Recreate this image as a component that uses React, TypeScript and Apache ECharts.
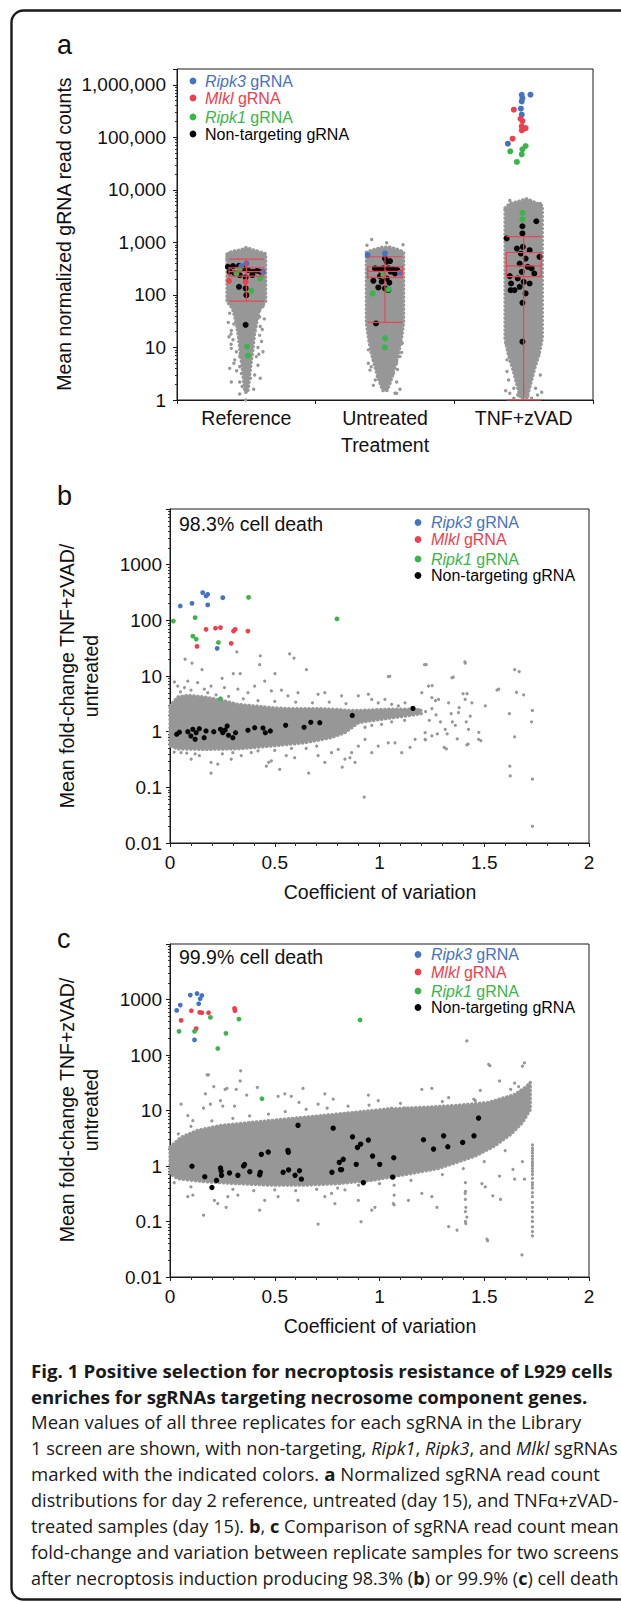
import React, { useEffect, useRef } from 'react';
import * as echarts from 'echarts';

const W = 621;
const H = 1602;
const GRAY = '#979797';
const BLUE = '#4472c4';
const RED = '#ee3f4b';
const GREEN = '#3ab54a';
const BLACK = '#050505';
const BOXRED = '#e94453';
const INK = '#111111';
const SANS = "'Liberation Sans', Arial, Helvetica, sans-serif";
const CAP_FONT = "'Open Sans', 'Noto Sans', sans-serif";

// ---------------- Panel a : read counts (category offset, value) ----------------
const categoriesA = ['Reference', 'Untreated', 'TNF+zVAD'];
const centersA = [0.5, 1.5, 2.5];

// dense gray cloud outlines per column [offset, count]
const cloudRef = [[-0.14, 600], [-0.1, 680], [-0.04, 720], [0, 800], [0.05, 720], [0.1, 660], [0.14, 600], [0.14, 75], [0.1, 55], [0.08, 35], [0.06, 18], [0.045, 8], [0.03, 4], [0.02, 2.2], [0.01, 1.4], [-0.01, 1.4], [-0.02, 2.2], [-0.03, 4], [-0.045, 8], [-0.06, 18], [-0.08, 35], [-0.1, 55], [-0.14, 75]];
const cloudUnt = [[-0.135, 650], [-0.09, 720], [-0.03, 800], [0.03, 820], [0.09, 740], [0.135, 660], [0.135, 30], [0.12, 15], [0.1, 8], [0.07, 4], [0.04, 2.2], [0.015, 1.5], [-0.015, 1.5], [-0.04, 2.2], [-0.07, 4], [-0.1, 8], [-0.12, 15], [-0.135, 30]];
const cloudTnf = [[-0.135, 4500], [-0.1, 5500], [-0.04, 6000], [0.02, 6800], [0.08, 5800], [0.135, 5000], [0.135, 15], [0.11, 7], [0.08, 4], [0.05, 2], [0.025, 1.1], [-0.025, 1.1], [-0.05, 2], [-0.08, 4], [-0.11, 7], [-0.135, 15]];

const aRefGray = [[-0.125, 617], [0.133, 617], [-0.14, 495], [-0.048, 60], [0.048, 52], [0.096, 52], [-0.072, 41], [0.072, 33], [-0.108, 21], [-0.048, 19], [0.06, 21], [0.096, 17], [-0.125, 16], [-0.096, 14], [0.048, 15], [0.084, 10], [0.12, 8.3], [-0.108, 9.6], [-0.072, 8.3], [0.072, 6.7], [-0.048, 6.7], [-0.084, 5.8], [-0.12, 4.0], [0.084, 4.6], [0.024, 5.4], [-0.048, 4.3], [-0.108, 2.2], [-0.048, 2.2], [-0.036, 3.2], [0.024, 3.7], [0.053, 1.6], [-0.048, 1.3], [-0.005, 1.0], [-0.096, 80], [0.108, 80], [0.096, 38], [-0.024, 31], [0.024, 11], [-0.024, 8.9], [0, 6.2], [0.12, 60], [-0.12, 45], [0.1, 25], [-0.09, 28], [0.11, 13], [-0.11, 11.5], [0.09, 7.4], [-0.09, 5], [0.06, 3], [-0.07, 3.6], [0.1, 2.6], [-0.03, 1.8], [0.03, 2.6], [-0.13, 30], [0.13, 35], [-0.11, 18], [0.115, 22]];
const aUntGray = [[-0.096, 1140], [0.012, 984], [-0.084, 5.8], [-0.12, 5.0], [0.084, 5.0], [0.108, 6.7], [-0.108, 3.7], [-0.055, 2.8], [0.06, 3.2], [0.084, 2.2], [-0.084, 1.9], [0.072, 1.34], [0.108, 1.6], [0.084, 1.34], [-0.012, 1.7], [0, 1.9], [-0.12, 9], [0.125, 12], [0.12, 8], [-0.1, 4.3], [0.09, 3.8], [-0.07, 2.4], [0.13, 900], [-0.13, 880]];
const aTnfGray = [[-0.109, 2.4], [-0.071, 1.67], [0.043, 2.07], [0.086, 1.67], [-0.1, 1.34], [0.1, 1.25], [-0.043, 1.25], [0.029, 1.16], [-0.071, 1.08], [0.057, 1.08], [0.109, 7.7], [-0.12, 5.8], [-0.1, 8.9], [0.077, 5.0], [-0.071, 4.3], [0.057, 3.2], [-0.129, 12], [0.114, 16], [0.12, 5500], [-0.1, 6300], [-0.13, 1.5], [0.13, 1.4], [-0.12, 3.5], [0.12, 3]];

const aRefBlack = [[-0.133, 344], [-0.096, 354], [-0.053, 359], [-0.024, 320], [0.012, 297], [0.048, 276], [0.077, 289], [0.101, 276], [-0.12, 276], [-0.084, 257], [-0.048, 239], [-0.005, 216], [0.043, 239], [-0.053, 143], [-0.005, 133], [0, 99], [-0.005, 27]];
const aRefRed = [[-0.125, 186], [-0.005, 178]];
const aRefBlue = [[-0.036, 354], [0, 398], [0.12, 276]];
const aRefGreen = [[-0.072, 257], [-0.048, 306], [0.101, 206], [0.036, 120], [0.005, 10.4], [0.012, 7]];

const aUntBlack = [[-0.084, 186], [-0.024, 179], [0.012, 206], [0.031, 171], [-0.048, 139], [0, 133], [0.024, 124], [-0.065, 28.7], [-0.072, 320], [-0.041, 306], [-0.012, 320], [0.024, 320], [0.06, 306], [0.089, 297], [0.012, 428], [0, 495], [0.036, 441], [0.072, 257], [0.041, 276], [-0.036, 228]];
const aUntBlue = [[-0.125, 573], [0, 617], [0.108, 264]];
const aUntGreen = [[-0.089, 107], [0.024, 127], [-0.012, 239], [0, 14.9], [0, 10]];

const aTnfBlue = [[-0.114, 75800], [-0.014, 647000], [-0.009, 560000], [-0.014, 483000], [0.049, 648000], [-0.02, 351000], [-0.014, 270000]];
const aTnfRed = [[-0.071, 336000], [-0.023, 226000], [-0.009, 204000], [-0.014, 162000], [0, 146000], [0.014, 150000], [-0.014, 136000], [-0.08, 94400]];
const aTnfGreen = [[-0.097, 54200], [0.014, 68400], [-0.009, 59100], [-0.014, 47500], [-0.049, 34000], [-0.009, 3640], [-0.009, 2760]];
const aTnfBlack = [[0.091, 2530], [-0.009, 2030], [-0.009, 1480], [-0.123, 1190], [-0.049, 764], [-0.006, 822], [0.043, 711], [0.114, 531], [-0.02, 614], [0.014, 493], [-0.029, 396], [0.029, 343], [-0.014, 275], [0.057, 319], [-0.1, 228], [-0.043, 206], [0, 178], [0.077, 256], [-0.091, 165], [-0.029, 143], [0.043, 165], [-0.094, 123], [-0.066, 123], [0.014, 107], [-0.009, 70.9], [-0.009, 12.9]];

// box statistics [min, Q1, median, Q3, max]
const boxRef = [76, 229, 277, 329, 480];
const boxUnt = [30, 216, 280, 344, 533];
const boxTnf = [1, 224, 358, 642, 1290];

// ---------------- Panel b : 98.3% (CV, fold change) ----------------
const bBand = [[0, 2.9], [0.037, 4.2], [0.085, 4.5], [0.164, 4.2], [0.244, 3.7], [0.324, 3.1], [0.404, 2.9], [0.484, 2.7], [0.563, 2.6], [0.643, 2.6], [0.723, 2.6], [0.803, 2.5], [0.867, 2.4], [0.95, 2.45], [1.05, 2.55], [1.15, 2.55], [1.2, 2.4], [1.2, 2.1], [1.1, 1.85], [1.0, 1.65], [0.9, 1.45], [0.835, 0.96], [0.771, 0.78], [0.643, 0.63], [0.484, 0.55], [0.324, 0.49], [0.164, 0.48], [0.037, 0.49], [0, 0.55]];
const bGray = [[0.072, 20], [0.105, 17], [0.153, 13], [0.021, 7.8], [0.085, 8.1], [0.249, 9.1], [0.319, 27], [0.428, 16], [0.431, 23], [0.571, 25], [0.592, 21], [0.651, 13], [0.501, 11], [0.452, 8.1], [0.532, 5.6], [0.302, 11], [0.335, 11],
  [0.037, 6.6], [0.069, 6.2], [0.132, 7.6], [0.164, 5.8], [0.196, 6.6], [0.26, 6.2], [0.324, 5.8], [0.372, 5.0], [0.404, 6.6], [0.484, 5.4], [0.563, 4.4], [0.611, 5.0], [0.707, 4.7], [0.739, 5.0], [0.819, 4.4],
  [0.05, 5.2], [0.1, 5.6], [0.18, 5.0], [0.22, 4.6], [0.28, 4.3], [0.35, 3.9], [0.42, 3.6], [0.5, 3.5], [0.6, 3.4], [0.68, 3.3], [0.76, 3.4], [0.84, 3.2],
  [0.899, 4.4], [0.947, 4.7], [0.963, 3.8], [0.994, 3.3], [1.026, 3.8], [1.058, 3.1], [1.09, 2.9], [1.122, 3.3], [1.154, 2.7], [1.186, 2.5], [1.202, 5.0], [1.25, 4.1], [1.282, 3.8], [1.33, 3.3], [1.377, 2.2], [1.409, 3.8], [1.441, 3.3], [1.505, 2.9], [1.561, 5.6],
  [1.042, 9.7], [1.215, 16], [1.346, 9.3], [1.409, 17], [1.234, 6.6],
  [1.22, 2.3], [1.25, 2.6], [1.27, 2.0], [0.963, 1.3], [1.01, 1.35], [1.058, 1.5], [0.931, 1.2], [1.12, 1.6],
  [0.899, 0.55], [0.963, 0.42], [0.994, 0.55], [1.042, 0.63], [1.074, 0.63], [1.106, 0.42], [1.146, 0.52], [1.17, 0.73], [1.218, 0.73], [1.25, 0.84], [1.314, 1.1], [1.362, 1.3], [1.425, 1.1], [1.473, 0.73], [1.417, 0.58], [1.309, 0.52], [1.218, 0.96], [0.931, 0.73], [0.867, 0.42],
  [0.053, 0.42], [0.101, 0.32], [0.14, 0.37], [0.196, 0.28], [0.228, 0.26], [0.196, 0.18], [0.292, 0.32], [0.34, 0.37], [0.388, 0.42], [0.46, 0.24], [0.471, 0.28], [0.484, 0.30], [0.524, 0.21], [0.555, 0.37], [0.595, 0.34], [0.662, 0.18], [0.707, 0.37], [0.739, 0.28], [0.771, 0.42], [0.822, 0.23], [0.859, 0.34], [0.883, 0.28], [0.835, 0.32], [0.803, 0.48], [0.927, 0.067],
  [0.02, 0.43], [0.08, 0.41], [0.12, 0.4], [0.25, 0.4], [0.3, 0.42], [0.42, 0.45], [0.5, 0.46], [0.58, 0.5], [0.65, 0.5], [0.7, 0.55],
  [1.62, 2.1], [1.645, 13], [1.667, 12], [1.654, 5.1], [1.688, 4.6], [1.73, 2.4], [1.726, 1.5], [1.645, 0.81], [1.622, 0.24], [1.624, 0.16], [1.73, 0.14], [1.73, 0.020], [1.569, 5.8],
  [1.408, 18], [1.352, 9.5], [1.399, 4.8], [1.418, 4.8], [1.414, 1.5], [1.433, 1.9], [1.38, 2.7], [1.342, 2.1], [1.474, 0.97], [1.484, 0.69], [1.423, 0.60], [1.371, 0.74], [1.323, 0.91], [1.319, 0.49], [1.276, 0.91], [1.219, 0.71], [1.223, 16], [1.251, 6.7], [1.267, 3.6], [1.238, 1.6], [1.291, 1.5], [1.348, 1.5], [1.049, 9.9]];
const bBlue = [[0.049, 181], [0.105, 202], [0.156, 314], [0.172, 274], [0.18, 293], [0.18, 189], [0.252, 255], [0.225, 31.4]];
const bRed = [[0.172, 69], [0.217, 72], [0.241, 74], [0.303, 64], [0.311, 69], [0.372, 64], [0.292, 38.6], [0.129, 34]];
const bGreen = [[0.016, 97], [0.12, 112], [0.375, 259], [0.797, 106], [0.109, 52], [0.125, 46], [0.231, 40], [0.241, 3.9]];
const bBlack = [[0.032, 0.9], [0.045, 0.98], [0.085, 1.0], [0.1, 0.84], [0.109, 1.1], [0.12, 0.73], [0.125, 0.96], [0.14, 1.13], [0.163, 0.78], [0.172, 1.03], [0.209, 1.0], [0.241, 1.1], [0.252, 0.96], [0.263, 1.07], [0.273, 1.26], [0.279, 0.86], [0.3, 0.78], [0.313, 0.96], [0.372, 1.06], [0.404, 1.18], [0.444, 1.16], [0.455, 0.96], [0.479, 1.03], [0.552, 1.3], [0.64, 1.2], [0.672, 1.47], [0.715, 1.45], [0.87, 1.96], [1.16, 2.62]];

// ---------------- Panel c : 99.9% (CV, fold change) ----------------
const cBand = [[0, 2.2], [0.053, 3.3], [0.132, 4.4], [0.244, 5.4], [0.404, 6.2], [0.563, 7.1], [0.723, 8.1], [0.883, 9.3], [1.042, 10.7], [1.202, 11.4], [1.362, 12.3], [1.521, 14], [1.645, 19.4], [1.701, 27], [1.72, 32], [1.72, 10.4], [1.682, 6], [1.626, 3.7], [1.55, 2.3], [1.456, 1.5], [1.282, 0.9], [1.122, 0.7], [0.963, 0.55], [0.803, 0.48], [0.643, 0.45], [0.484, 0.45], [0.324, 0.48], [0.164, 0.52], [0.037, 0.59], [0, 0.73]];
const cGray = [[0.177, 44], [0.184, 44], [0.209, 27], [0.169, 20], [0.053, 13], [0.263, 24], [0.272, 25], [0.316, 24], [0.337, 52], [0.335, 34], [0.417, 26], [0.366, 19], [0.308, 12], [0.252, 12], [0.241, 15], [0.193, 13], [0.16, 11], [0.109, 6.6], [0.085, 8.1], [0.516, 18], [0.548, 20], [0.579, 18], [0.635, 25], [0.616, 14], [0.707, 13], [0.739, 20], [0.779, 16], [0.843, 8.7], [0.947, 19], [0.994, 15], [1.058, 11], [1.202, 24], [1.25, 25], [1.417, 179], [1.521, 68], [1.33, 17], [1.481, 23], [1.457, 15], [1.122, 11],
  [0.04, 3.8], [0.1, 5.2], [0.2, 6.5], [0.3, 7.2], [0.38, 8.0], [0.47, 8.6], [0.55, 9.5], [0.65, 10.5], [0.75, 11], [0.85, 12], [0.95, 12.5], [1.1, 13.5], [1.3, 14.5], [1.45, 16],
  [0.02, 0.5], [0.1, 0.42], [0.2, 0.4], [0.3, 0.38], [0.4, 0.36], [0.5, 0.37], [0.6, 0.36], [0.7, 0.38], [0.8, 0.4], [0.9, 0.45], [1.0, 0.48], [1.15, 0.55], [1.3, 0.7], [1.4, 0.9], [1.5, 1.2], [1.6, 1.9],
  [0.085, 0.28], [0.109, 0.30], [0.16, 0.13], [0.228, 0.21], [0.268, 0.18], [0.212, 0.24], [0.276, 0.28], [0.324, 0.30], [0.428, 0.16], [0.452, 0.24], [0.516, 0.28], [0.611, 0.24], [0.707, 0.09], [0.739, 0.28], [0.771, 0.32], [0.787, 0.21], [0.835, 0.37], [0.899, 0.24], [0.912, 0.099], [0.963, 0.16], [0.978, 0.18], [1.066, 0.21], [1.138, 0.24], [1.202, 0.32], [1.25, 0.28], [1.274, 0.18], [1.33, 0.081], [1.37, 0.07], [1.409, 0.32], [1.412, 0.18], [1.417, 0.12], [1.412, 0.092], [1.513, 0.048], [1.505, 0.42], [1.489, 0.48],
  [1.527, 64], [1.682, 63], [1.692, 72], [1.645, 31], [1.664, 27], [1.626, 24], [1.711, 29], [1.573, 34],
  [1.73, 2.4], [1.73, 2.1], [1.73, 1.9], [1.73, 1.7], [1.73, 1.5], [1.73, 1.35], [1.73, 1.2], [1.73, 1.1], [1.73, 1.0], [1.73, 0.9], [1.73, 0.8], [1.73, 0.7], [1.73, 0.6], [1.73, 0.5], [1.73, 0.45], [1.73, 0.4], [1.73, 0.33], [1.73, 0.28], [1.73, 0.22], [1.73, 0.18], [1.73, 0.15], [1.73, 0.12], [1.73, 0.1], [1.73, 0.08], [1.73, 0.066], [1.73, 0.055],
  [1.682, 1.2], [1.692, 0.58], [1.645, 0.58], [1.637, 0.87], [1.578, 0.25], [1.541, 0.29], [1.573, 0.66], [1.516, 0.045], [1.68, 0.025],
  [1.41, 0.5], [1.41, 0.35], [1.41, 0.25], [1.41, 0.15], [1.41, 0.1], [1.07, 0.45], [1.07, 0.3], [1.07, 0.2]];
const cBlue = [[0.032, 636], [0.049, 792], [0.097, 1200], [0.129, 1280], [0.152, 1180], [0.144, 1030], [0.137, 837], [0.117, 187]];
const cRed = [[0.053, 421], [0.102, 627], [0.142, 585], [0.152, 577], [0.184, 577], [0.308, 691], [0.31, 627], [0.125, 298]];
const cGreen = [[0.043, 267], [0.117, 267], [0.193, 476], [0.329, 444], [0.267, 246], [0.228, 131], [0.907, 427], [0.439, 16.3]];
const cBlack = [[0.105, 0.99], [0.166, 0.64], [0.2, 0.41], [0.222, 0.55], [0.241, 0.92], [0.244, 0.81], [0.246, 0.68], [0.284, 0.75], [0.324, 0.68], [0.351, 1.0], [0.356, 1.06], [0.381, 0.79], [0.428, 0.69], [0.431, 0.77], [0.436, 1.62], [0.469, 1.78], [0.54, 0.77], [0.563, 1.91], [0.565, 1.76], [0.566, 0.85], [0.597, 0.68], [0.618, 0.82], [0.627, 0.58], [0.611, 5.4], [0.773, 0.77], [0.779, 4.8], [0.808, 1.16], [0.814, 0.86], [0.819, 0.86], [0.827, 1.32], [0.871, 3.36], [0.889, 1.07], [0.895, 2.16], [0.91, 2.48], [0.923, 0.5], [0.947, 2.93], [0.967, 1.51], [1.001, 1.07], [1.063, 0.63], [1.068, 1.41], [1.21, 2.97], [1.258, 2.02], [1.306, 3.5], [1.326, 2.22], [1.397, 2.66], [1.451, 3.5], [1.473, 7.3]];

// ---------------- Caption ----------------
const captionLines: [string, string][][] = [
  [['h', 'Fig. 1 Positive selection for necroptosis resistance of L929 cells']],
  [['h', 'enriches for sgRNAs targeting necrosome component genes.']],
  [['n', 'Mean values of all three replicates for each sgRNA in the Library']],
  [['n', '1 screen are shown, with non-targeting, '], ['i', 'Ripk1'], ['n', ', '], ['i', 'Ripk3'], ['n', ', and '], ['i', 'Mlkl'], ['n', ' sgRNAs']],
  [['n', 'marked with the indicated colors. '], ['b', 'a'], ['n', ' Normalized sgRNA read count']],
  [['n', 'distributions for day 2 reference, untreated (day 15), and TNFα+zVAD-']],
  [['n', 'treated samples (day 15). '], ['b', 'b'], ['n', ', '], ['b', 'c'], ['n', ' Comparison of sgRNA read count mean']],
  [['n', 'fold-change and variation between replicate samples for two screens']],
  [['n', 'after necroptosis induction producing 98.3% ('], ['b', 'b'], ['n', ') or 99.9% ('], ['b', 'c'], ['n', ') cell death']],
];
const captionRight = [613, 588, 582, 618, 600, 619, 619, 619, 619];
const captionY = [1371, 1397, 1422, 1448, 1474, 1500, 1526, 1552, 1578];
const CAP_LEFT = 31;

const capStyles: any = {
  h: { fontSize: 18.5, fontWeight: 'bold', fontStyle: 'normal' },
  n: { fontSize: 17.5, fontWeight: 'normal', fontStyle: 'normal' },
  i: { fontSize: 17.5, fontWeight: 'normal', fontStyle: 'italic' },
  b: { fontSize: 17.5, fontWeight: 'bold', fontStyle: 'normal' },
};

const legendEntries = [
  { gene: 'Ripk3', rest: ' gRNA', color: BLUE },
  { gene: 'Mlkl', rest: ' gRNA', color: RED },
  { gene: 'Ripk1', rest: ' gRNA', color: GREEN },
  { gene: '', rest: 'Non-targeting gRNA', color: BLACK },
];

const isPow10 = (v: number) => Math.abs(Math.log10(v) - Math.round(Math.log10(v))) < 1e-6;

function place(pts: number[][], c: number) {
  return pts.map(([o, v]) => [c + o, v]);
}

function polygonSeries(xi: number, yi: number, envs: number[][][], centers: number[]) {
  return {
    type: 'custom', xAxisIndex: xi, yAxisIndex: yi, silent: true, z: 1,
    encode: { x: 0, y: 1 },
    data: centers.map((c) => [c, 1]),
    renderItem: (params: any, api: any) => {
      const env = envs[params.dataIndex];
      const c = centers[params.dataIndex];
      return {
        type: 'polygon',
        shape: { points: env.map((p) => api.coord([c + p[0], p[1]])) },
        style: { fill: GRAY, stroke: GRAY, lineWidth: 3.2, lineDash: [0.5, 3.5], lineCap: 'round', lineJoin: 'round' },
      };
    },
  };
}

function scatter(xi: number, yi: number, data: number[][], color: string, size: number, z: number) {
  return {
    type: 'scatter', xAxisIndex: xi, yAxisIndex: yi, data, symbol: 'circle', symbolSize: size, z,
    silent: true, itemStyle: { color, opacity: 1 },
  };
}

function boxSeries() {
  const stats = [boxRef, boxUnt, boxTnf];
  return {
    type: 'custom', xAxisIndex: 0, yAxisIndex: 0, silent: true, z: 6,
    encode: { x: 0, y: [1, 2, 3, 4, 5] },
    data: stats.map((s, i) => [centersA[i], ...s]),
    renderItem: (params: any, api: any) => {
      const x = api.value(0);
      const hw = 0.125;
      const mn = api.value(1), q1 = api.value(2), md = api.value(3), q3 = api.value(4), mx = api.value(5);
      const p = (dx: number, v: number) => api.coord([x + dx, v]);
      const st = { stroke: BOXRED, lineWidth: 1.2, fill: null };
      const L = (a: number[], b: number[]) => ({ type: 'line', shape: { x1: a[0], y1: a[1], x2: b[0], y2: b[1] }, style: st });
      const tl = p(-hw, q3), br = p(hw, q1);
      return {
        type: 'group',
        children: [
          { type: 'rect', shape: { x: tl[0], y: tl[1], width: br[0] - tl[0], height: br[1] - tl[1] }, style: st },
          L(p(-hw, md), p(hw, md)),
          L(p(0, mn), p(0, mx)),
          L(p(-hw, mx), p(hw, mx)),
          L(p(-hw, mn), p(hw, mn)),
        ],
      };
    },
  };
}

function logY(grid: number, min: number, max: number, fmt: (v: number) => string, margin: number) {
  return {
    gridIndex: grid, type: 'log', logBase: 10, min, max,
    axisLine: { show: true, onZero: false, lineStyle: { color: '#1a1a1a', width: 1 } },
    axisTick: { show: true, inside: false, length: 4, lineStyle: { color: '#1a1a1a' } },
    minorTick: { show: true, splitNumber: 9, length: 2, lineStyle: { color: '#333' } },
    splitLine: { show: false }, minorSplitLine: { show: false },
    axisLabel: { formatter: fmt, color: INK, fontSize: 19, fontFamily: SANS, margin },
  };
}

function cvX(grid: number) {
  return {
    gridIndex: grid, type: 'value', min: 0, max: 2, interval: 0.5, position: 'bottom',
    axisLine: { show: true, onZero: false, lineStyle: { color: '#1a1a1a', width: 1 } },
    axisTick: { show: true, length: 4, lineStyle: { color: '#1a1a1a' } },
    minorTick: { show: true, splitNumber: 5, length: 3, lineStyle: { color: '#333' } },
    splitLine: { show: false },
    axisLabel: { formatter: (v: number) => String(v), color: INK, fontSize: 19, fontFamily: SANS, margin: 10 },
  };
}

function txt(text: string, x: number, y: number, extra: any = {}, style: any = {}) {
  return {
    type: 'text', x, y, z: 100, silent: true, ...extra,
    style: { text, fill: INK, fontFamily: SANS, fontSize: 19.5, align: 'center', verticalAlign: 'middle', ...style },
  };
}

function legend(mx: number, tx: number, ys: number[]) {
  const els: any[] = [];
  legendEntries.forEach((e, k) => {
    els.push({ type: 'circle', z: 100, silent: true, shape: { cx: mx, cy: ys[k], r: 3.4 }, style: { fill: e.color } });
    const rich = {
      i: { fontSize: 16, fontFamily: SANS, fontStyle: 'italic', fontWeight: 'normal', fill: e.color },
      n: { fontSize: 16, fontFamily: SANS, fontStyle: 'normal', fontWeight: 'normal', fill: e.color },
    };
    const text = (e.gene ? `{i|${e.gene}}` : '') + `{n|${e.rest}}`;
    els.push({ type: 'text', z: 100, silent: true, x: tx, y: ys[k], style: { text, rich, align: 'left', verticalAlign: 'middle', fill: e.color, fontSize: 16, fontFamily: SANS } });
  });
  return els;
}

function captionElements() {
  const ctx = document.createElement('canvas').getContext('2d') as CanvasRenderingContext2D;
  const rich: any = {};
  Object.keys(capStyles).forEach((k) => {
    rich[k] = { ...capStyles[k], fontFamily: CAP_FONT, fill: '#1a1a1a' };
  });
  return captionLines.map((segs, li) => {
    let w = 0;
    segs.forEach(([k, t]) => {
      const s = capStyles[k];
      ctx.font = `${s.fontStyle} ${s.fontWeight} ${s.fontSize}px ${CAP_FONT}`;
      w += ctx.measureText(t).width;
    });
    const target = captionRight[li] - CAP_LEFT;
    const sx = w > 0 ? target / w : 1;
    return {
      type: 'text', z: 100, silent: true, x: CAP_LEFT, y: captionY[li], scaleX: sx,
      style: {
        text: segs.map(([k, t]) => `{${k}|${t}}`).join(''), rich,
        align: 'left', verticalAlign: 'middle', fill: '#1a1a1a', fontFamily: CAP_FONT, fontSize: 17.5,
      },
    };
  });
}

function buildOption() {
  const fmtA = (v: number) => (isPow10(v) ? Math.round(v).toLocaleString('en-US') : '');
  const fmtB = (v: number) => (isPow10(v) && v < 5000 ? String(+v.toPrecision(2)) : '');

  const series: any[] = [
    polygonSeries(0, 0, [cloudRef, cloudUnt, cloudTnf], centersA),
    scatter(0, 0, [...place(aRefGray, 0.5), ...place(aUntGray, 1.5), ...place(aTnfGray, 2.5)], GRAY, 3.4, 2),
    scatter(0, 0, [...place(aRefBlack, 0.5), ...place(aUntBlack, 1.5), ...place(aTnfBlack, 2.5)], BLACK, 6, 3),
    scatter(0, 0, [...place(aRefBlue, 0.5), ...place(aUntBlue, 1.5), ...place(aTnfBlue, 2.5)], BLUE, 6, 4),
    scatter(0, 0, [...place(aRefRed, 0.5), ...place(aTnfRed, 2.5)], RED, 6, 4),
    scatter(0, 0, [...place(aRefGreen, 0.5), ...place(aUntGreen, 1.5), ...place(aTnfGreen, 2.5)], GREEN, 6, 4),
    boxSeries(),

    polygonSeries(2, 1, [bBand], [0]),
    scatter(2, 1, bGray, GRAY, 3.2, 2),
    scatter(2, 1, bBlack, BLACK, 5.2, 3),
    scatter(2, 1, bBlue, BLUE, 4.8, 4),
    scatter(2, 1, bRed, RED, 4.8, 4),
    scatter(2, 1, bGreen, GREEN, 4.8, 4),

    polygonSeries(3, 2, [cBand], [0]),
    scatter(3, 2, cGray, GRAY, 3.2, 2),
    scatter(3, 2, cBlack, BLACK, 5.4, 3),
    scatter(3, 2, cBlue, BLUE, 4.8, 4),
    scatter(3, 2, cRed, RED, 4.8, 4),
    scatter(3, 2, cGreen, GREEN, 4.8, 4),
  ];

  const graphics: any[] = [
    { type: 'rect', z: 0, silent: true, shape: { x: 11.5, y: 10.5, width: 760, height: 1589, r: 12 }, style: { fill: null, stroke: '#1a1a1a', lineWidth: 2.4 } },
    txt('a', 57, 45, {}, { fontSize: 27, align: 'left' }),
    txt('b', 57, 496, {}, { fontSize: 27, align: 'left' }),
    txt('c', 57, 939, {}, { fontSize: 27, align: 'left' }),
    txt('Mean normalized gRNA read counts', 64, 234, { rotation: Math.PI / 2 }),
    txt('Treatment', 385, 445),
    txt('Mean fold-change TNF+zVAD/\nuntreated', 79, 676, { rotation: Math.PI / 2 }, { lineHeight: 24.5 }),
    txt('Mean fold-change TNF+zVAD/\nuntreated', 79, 1110, { rotation: Math.PI / 2 }, { lineHeight: 24.5 }),
    txt('Coefficient of variation', 380, 892),
    txt('Coefficient of variation', 380, 1326),
    txt('98.3% cell death', 179, 524, {}, { align: 'left' }),
    txt('99.9% cell death', 179, 957, {}, { align: 'left' }),
    ...legend(193, 205, [81, 98, 117, 134]),
    ...legend(418, 431, [522.5, 539.5, 559, 575.5]),
    ...legend(418, 431, [954.5, 972, 991, 1007.5]),
    ...captionElements(),
  ];

  return {
    animation: false,
    backgroundColor: '#ffffff',
    textStyle: { fontFamily: SANS },
    grid: [
      { left: 177, top: 69, width: 416, height: 331, show: true, borderColor: '#1a1a1a', borderWidth: 1, backgroundColor: 'transparent' },
      { left: 170, top: 509, width: 419, height: 334, show: true, borderColor: '#1a1a1a', borderWidth: 1, backgroundColor: 'transparent' },
      { left: 170, top: 944, width: 419, height: 333, show: true, borderColor: '#1a1a1a', borderWidth: 1, backgroundColor: 'transparent' },
    ],
    xAxis: [
      { gridIndex: 0, type: 'value', min: 0, max: 3, show: false, position: 'top' },
      {
        gridIndex: 0, type: 'category', data: categoriesA, position: 'bottom', boundaryGap: true,
        axisLine: { show: true, lineStyle: { color: '#1a1a1a', width: 1 } },
        axisTick: { show: true, length: 4, alignWithLabel: false, lineStyle: { color: '#1a1a1a' } },
        axisLabel: { color: INK, fontSize: 19.5, fontFamily: SANS, margin: 8 },
        splitLine: { show: false },
      },
      cvX(1),
      cvX(2),
    ],
    yAxis: [
      logY(0, 1, 2e6, fmtA, 11),
      logY(1, 0.01, 10000, fmtB, 8),
      logY(2, 0.01, 10000, fmtB, 8),
    ],
    series,
    graphic: { elements: graphics },
  };
}

export default function App() {
  const ref = useRef<HTMLDivElement>(null);
  useEffect(() => {
    if (!ref.current) return;
    const chart = echarts.init(ref.current, undefined, { renderer: 'svg', width: W, height: H });
    chart.setOption(buildOption() as any);
    return () => chart.dispose();
  }, []);
  return <div ref={ref} style={{ position: 'absolute', left: 0, top: 0, width: W, height: H }} />;
}
